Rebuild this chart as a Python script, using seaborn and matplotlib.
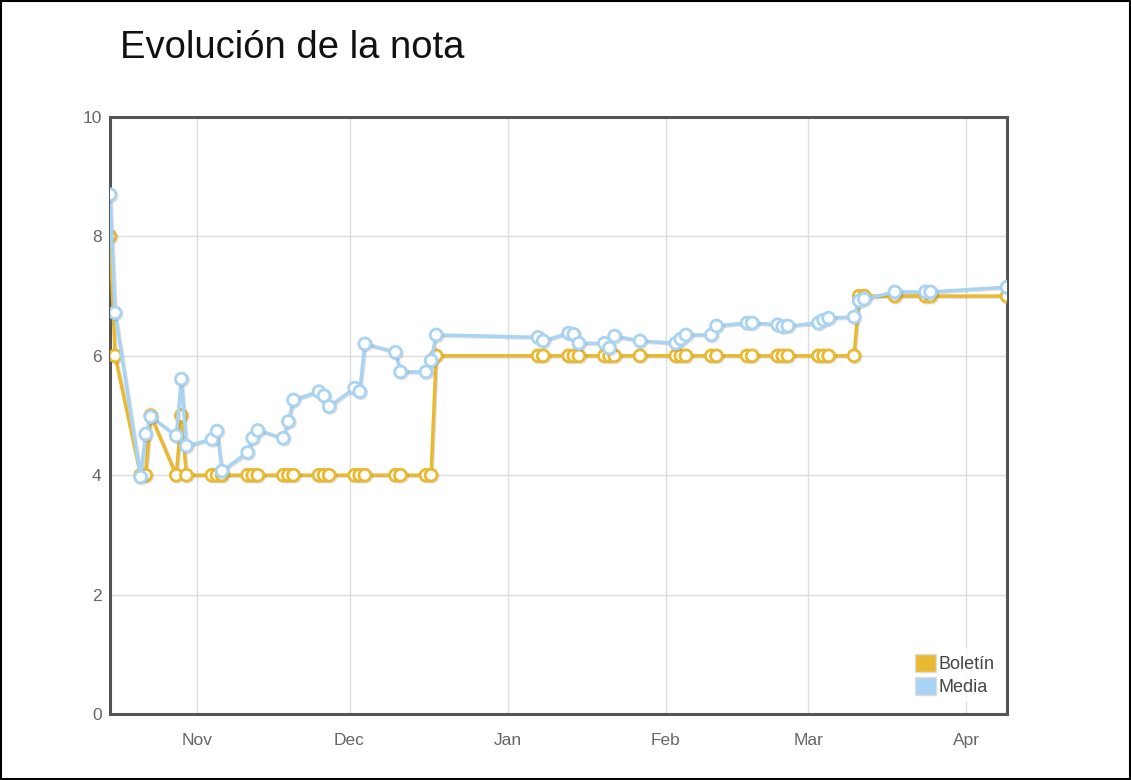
import numpy as np
import pandas as pd
import matplotlib
matplotlib.use("Agg")
import matplotlib.pyplot as plt
import matplotlib.dates as mdates
import matplotlib.patheffects as pe
from matplotlib.patches import Rectangle, Patch
import seaborn as sns

# ---- data ----
fechas = [
    "2012-10-15", "2012-10-16", "2012-10-21", "2012-10-22", "2012-10-23",
    "2012-10-28", "2012-10-29", "2012-10-30", "2012-11-04", "2012-11-05",
    "2012-11-06", "2012-11-11", "2012-11-12", "2012-11-13", "2012-11-18",
    "2012-11-19", "2012-11-20", "2012-11-25", "2012-11-26", "2012-11-27",
    "2012-12-02", "2012-12-03", "2012-12-04", "2012-12-10", "2012-12-11",
    "2012-12-16", "2012-12-17", "2012-12-18", "2013-01-07", "2013-01-08",
    "2013-01-13", "2013-01-14", "2013-01-15", "2013-01-20", "2013-01-21",
    "2013-01-22", "2013-01-27", "2013-02-03", "2013-02-04", "2013-02-05",
    "2013-02-10", "2013-02-11", "2013-02-17", "2013-02-18", "2013-02-23",
    "2013-02-24", "2013-02-25", "2013-03-03", "2013-03-04", "2013-03-05",
    "2013-03-10", "2013-03-11", "2013-03-12", "2013-03-18", "2013-03-24",
    "2013-03-25", "2013-04-09",
]
boletin = [
    8, 6, 4, 4, 5,
    4, 5, 4, 4, 4,
    4, 4, 4, 4, 4,
    4, 4, 4, 4, 4,
    4, 4, 4, 4, 4,
    4, 4, 6, 6, 6,
    6, 6, 6, 6, 6,
    6, 6, 6, 6, 6,
    6, 6, 6, 6, 6,
    6, 6, 6, 6, 6,
    6, 7, 7, 7, 7,
    7, 7,
]
media = [
    8.70, 6.72, 3.97, 4.69, 4.98,
    4.66, 5.61, 4.49, 4.60, 4.74,
    4.07, 4.38, 4.62, 4.75, 4.62,
    4.90, 5.26, 5.40, 5.33, 5.15,
    5.46, 5.40, 6.20, 6.06, 5.73,
    5.73, 5.92, 6.35, 6.31, 6.25,
    6.38, 6.36, 6.21, 6.21, 6.13,
    6.33, 6.25, 6.21, 6.28, 6.35,
    6.35, 6.50, 6.55, 6.55, 6.52,
    6.49, 6.50, 6.55, 6.60, 6.63,
    6.65, 6.92, 6.95, 7.07, 7.07,
    7.07, 7.15,
]
series_names = ["Boletín", "Media"]
y_ticks = [0, 2, 4, 6, 8, 10]

# ---- styling ----
c_bol = "#E8B931"
c_med = "#A9D3F2"

sns.set_theme(style="white")
plt.rcParams["font.family"] = ["Liberation Sans", "DejaVu Sans"]

df = pd.DataFrame({
    "fecha": pd.to_datetime(fechas),
    "Boletín": boletin,
    "Media": media,
})

fig = plt.figure(figsize=(11.31, 7.80), dpi=100)
ax = fig.add_axes([110 / 1131, 1 - 714 / 780, (1007 - 110) / 1131, (714 - 117) / 780])

shadow = [pe.SimpleLineShadow(offset=(0.8, -0.8), alpha=0.12, shadow_color="black"),
          pe.Normal()]
for name, col in zip(series_names, [c_bol, c_med]):
    sns.lineplot(data=df, x="fecha", y=name, ax=ax, color=col, linewidth=2.5,
                 marker="o", markersize=8.5, markerfacecolor="white",
                 markeredgecolor=col, markeredgewidth=2.0, zorder=3,
                 path_effects=shadow)

ax.set_xlim(df["fecha"].min(), df["fecha"].max())
ax.set_ylim(0, 10)
ax.set_yticks(y_ticks)
ax.set_yticklabels([str(t) for t in y_ticks])
ax.xaxis.set_major_locator(mdates.MonthLocator())
ax.xaxis.set_major_formatter(mdates.DateFormatter("%b"))
ax.grid(True, color="#dddddd", linewidth=1.0, zorder=0)
ax.tick_params(axis="x", length=0, pad=14, labelsize=12.5, labelcolor="#666666")
ax.tick_params(axis="y", length=0, pad=6, labelsize=12.5, labelcolor="#666666")
ax.set_xlabel("")
ax.set_ylabel("")
for s in ax.spines.values():
    s.set_visible(True)
    s.set_color("#555555")
    s.set_linewidth(2.2)
ax.set_axisbelow(True)

handles = [Patch(facecolor=c_bol, edgecolor="#dddddd"),
           Patch(facecolor=c_med, edgecolor="#dddddd")]
leg = ax.legend(handles, series_names, loc="lower right", frameon=True,
                fontsize=13, handlelength=1.15, handleheight=1.15,
                handletextpad=0.15, labelspacing=0.2, borderpad=0.3,
                bbox_to_anchor=(1.004, 0.003), borderaxespad=0.6)
leg.get_frame().set_edgecolor("white")
leg.get_frame().set_facecolor("white")
for t in leg.get_texts():
    t.set_color("#444444")

fig.text(120 / 1131, 1 - 58 / 780, "Evolución de la nota", fontsize=27.5,
         color="#111111", ha="left", va="baseline")

fig.patches.append(Rectangle((0.001, 0.001), 0.998, 0.998, transform=fig.transFigure,
                             fill=False, edgecolor="black", linewidth=1.5))

fig.savefig("out.png", dpi=100, facecolor="white")
